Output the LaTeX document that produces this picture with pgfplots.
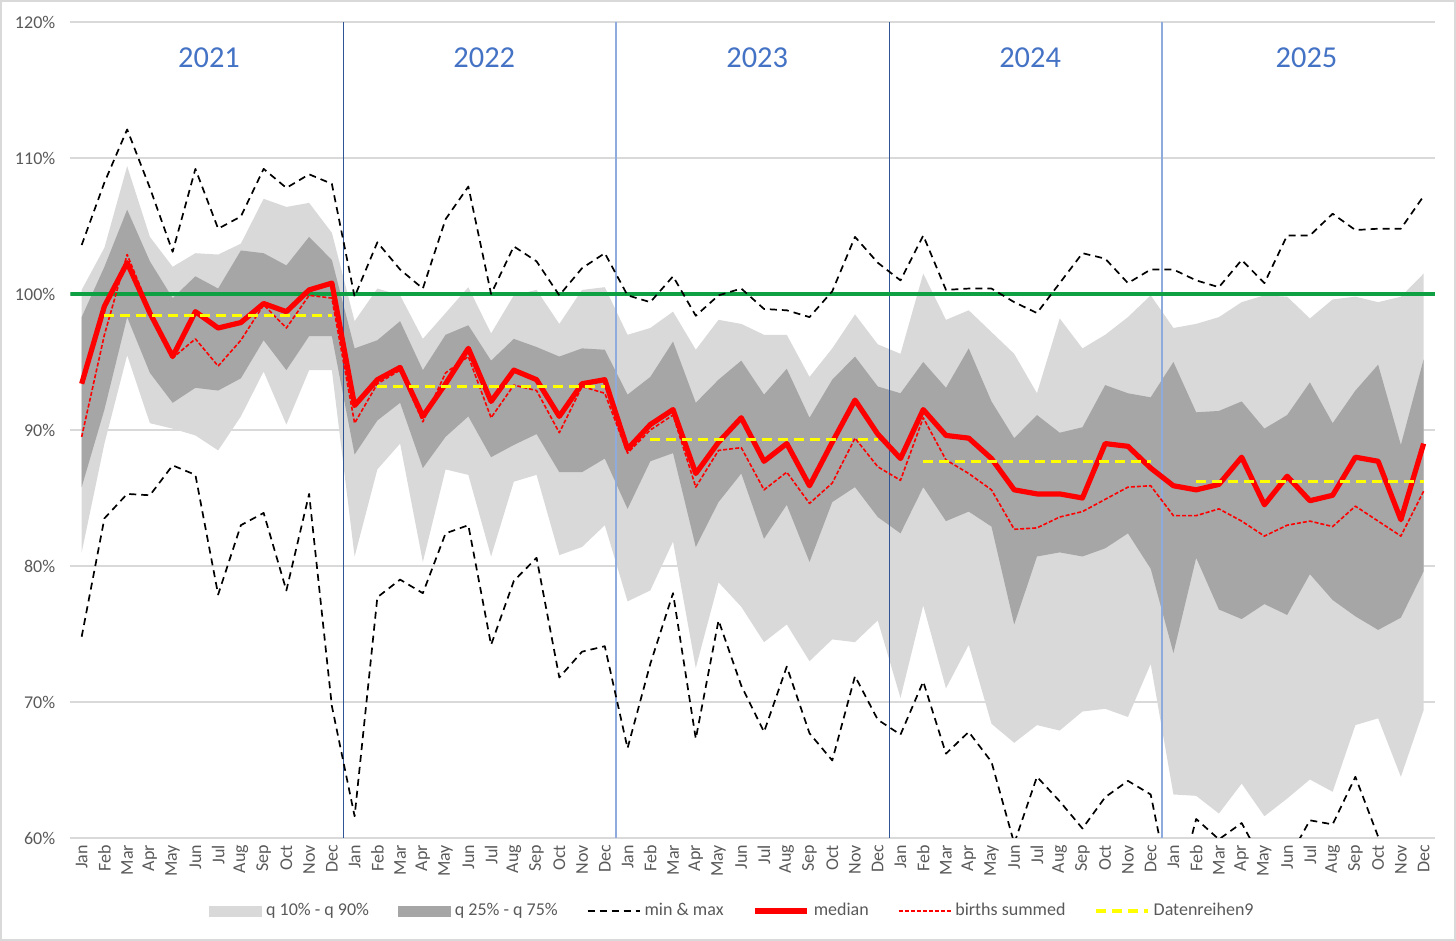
\documentclass[border=0pt]{standalone}
\usepackage{fontspec}
\setmainfont{Carlito}
\usepackage{pgfplots}
\pgfplotsset{compat=1.18}
\usepackage{pgfplotstable}
\usepgfplotslibrary{fillbetween}
\definecolor{lightband}{HTML}{D9D9D9}
\definecolor{darkband}{HTML}{A6A6A6}
\definecolor{gridgray}{HTML}{D9D9D9}
\definecolor{tickgray}{HTML}{595959}
\definecolor{greenline}{HTML}{0EA043}
\definecolor{yearblue}{HTML}{4472C4}
\definecolor{sepdark}{HTML}{2F5597}
\definecolor{seplight}{HTML}{8FAADC}
\definecolor{yel}{HTML}{FFFF00}

\pgfplotstableread{
x q10 q25 q75 q90 mn mx med births avg
0 81.0 85.8 98.3 100.3 74.8 103.6 93.4 89.5 nan
1 89.0 91.5 102.0 103.4 83.5 108.2 99.1 97.0 98.4
2 95.5 98.3 106.2 109.4 85.3 112.1 102.3 102.9 98.4
3 90.5 94.2 102.4 104.2 85.2 107.8 98.6 98.8 98.4
4 90.1 92.0 99.7 102.0 87.4 103.1 95.4 95.3 98.4
5 89.6 93.1 101.3 103.0 86.7 109.2 98.7 96.7 98.4
6 88.5 92.9 100.4 102.9 77.9 104.8 97.5 94.7 98.4
7 91.0 93.8 103.2 103.7 83.0 105.7 97.9 96.6 98.4
8 94.3 96.6 103.0 107.0 83.9 109.2 99.3 99.2 98.4
9 90.4 94.4 102.1 106.4 78.2 107.8 98.7 97.5 98.4
10 94.4 96.9 104.2 106.7 85.3 108.8 100.3 99.9 98.4
11 94.4 96.9 102.5 104.5 69.7 108.1 100.8 99.7 98.4
12 80.7 88.2 96.0 98.0 61.6 99.8 91.8 90.5 nan
13 87.1 90.7 96.6 100.4 77.7 103.8 93.7 93.4 93.2
14 89.0 92.0 98.0 99.9 79.0 101.8 94.6 94.4 93.2
15 80.3 87.2 94.4 96.7 78.0 100.4 91.0 90.6 93.2
16 87.1 89.5 97.0 98.6 82.4 105.5 93.4 94.2 93.2
17 86.7 91.0 97.7 100.5 83.0 107.9 96.0 95.4 93.2
18 80.7 88.0 95.1 97.1 74.2 100.0 92.1 90.9 93.2
19 86.2 88.9 96.7 99.9 78.9 103.5 94.4 93.3 93.2
20 86.7 89.7 96.1 100.3 80.6 102.4 93.7 92.9 93.2
21 80.8 86.9 95.4 97.8 71.8 99.9 91.0 89.8 93.2
22 81.4 86.9 96.0 100.3 73.7 101.9 93.4 93.2 93.2
23 83.0 87.9 95.9 100.5 74.1 103.0 93.7 92.7 93.2
24 77.4 84.2 92.6 97.0 66.6 99.9 88.6 88.3 nan
25 78.2 87.7 93.9 97.5 72.8 99.4 90.4 90.0 89.3
26 81.8 88.3 96.5 98.7 78.0 101.3 91.5 91.1 89.3
27 72.5 81.4 92.0 95.9 67.3 98.4 86.8 85.8 89.3
28 78.8 84.7 93.7 98.1 76.0 99.9 89.1 88.5 89.3
29 77.0 86.8 95.1 97.8 71.2 100.4 90.9 88.7 89.3
30 74.4 82.0 92.6 97.0 67.8 98.9 87.7 85.6 89.3
31 75.7 84.5 94.5 97.0 72.6 98.8 89.0 86.9 89.3
32 73.0 80.3 90.9 93.9 67.7 98.3 85.9 84.6 89.3
33 74.6 84.7 93.7 96.0 65.7 100.2 89.1 86.1 89.3
34 74.4 85.8 95.4 98.5 71.9 104.2 92.2 89.4 89.3
35 76.0 83.6 93.2 96.3 68.7 102.3 89.7 87.3 89.3
36 70.3 82.4 92.7 95.6 67.6 101.0 87.9 86.3 nan
37 77.1 85.8 95.0 101.5 71.5 104.3 91.5 90.9 87.7
38 71.0 83.3 93.1 98.1 66.2 100.3 89.6 87.8 87.7
39 74.2 84.0 96.0 98.8 67.8 100.4 89.4 86.8 87.7
40 68.4 82.9 92.1 97.2 65.6 100.4 87.9 85.6 87.7
41 67.0 75.7 89.4 95.6 59.6 99.4 85.6 82.7 87.7
42 68.3 80.7 91.1 92.7 64.5 98.6 85.3 82.8 87.7
43 67.9 81.0 89.8 98.2 62.7 100.8 85.3 83.6 87.7
44 69.3 80.7 90.2 96.0 60.7 103.0 85.0 84.0 87.7
45 69.5 81.3 93.3 97.0 63.0 102.6 89.0 84.9 87.7
46 68.9 82.4 92.7 98.3 64.2 100.8 88.8 85.8 87.7
47 72.8 79.8 92.4 99.9 63.2 101.8 87.2 85.9 87.7
48 63.2 73.6 95.0 97.5 55.0 101.8 85.9 83.7 nan
49 63.1 80.6 91.3 97.8 61.4 101.0 85.6 83.7 86.2
50 61.8 76.8 91.4 98.3 59.9 100.5 86.0 84.2 86.2
51 64.0 76.1 92.1 99.4 61.1 102.5 88.0 83.3 86.2
52 61.6 77.2 90.1 99.9 58.0 100.8 84.5 82.2 86.2
53 62.9 76.4 91.1 99.8 58.3 104.3 86.6 83.0 86.2
54 64.3 79.4 93.5 98.2 61.3 104.3 84.8 83.3 86.2
55 63.4 77.5 90.5 99.6 61.0 105.9 85.2 82.9 86.2
56 68.3 76.3 92.9 99.8 64.5 104.7 88.0 84.4 86.2
57 68.8 75.3 94.8 99.4 60.1 104.8 87.7 83.3 86.2
58 64.5 76.2 88.9 99.8 58.0 104.8 83.4 82.2 86.2
59 69.4 79.6 95.2 101.5 57.5 107.2 89.0 85.5 86.2
}\data

\begin{document}
\begin{tikzpicture}
\begin{axis}[
  at={(35.15pt,51.5pt)}, anchor=south west,
  scale only axis, width=682.35pt, height=408pt,
  xmin=-0.5, xmax=59.5, ymin=60, ymax=120,
  axis line style={draw=none},
  major tick length=0pt,
  ymajorgrids, grid style={gridgray, line width=0.6pt},
  ytick={60,70,80,90,100,110,120},
  yticklabels={60\%,70\%,80\%,90\%,100\%,110\%,120\%},
  yticklabel style={font=\fontsize{9}{11}\selectfont, text=tickgray, xshift=-4pt},
  xtick={0,...,59},
  xticklabels={Jan,Feb,Mar,Apr,May,Jun,Jul,Aug,Sep,Oct,Nov,Dec,Jan,Feb,Mar,Apr,May,Jun,Jul,Aug,Sep,Oct,Nov,Dec,Jan,Feb,Mar,Apr,May,Jun,Jul,Aug,Sep,Oct,Nov,Dec,Jan,Feb,Mar,Apr,May,Jun,Jul,Aug,Sep,Oct,Nov,Dec,Jan,Feb,Mar,Apr,May,Jun,Jul,Aug,Sep,Oct,Nov,Dec},
  xticklabel style={font=\fontsize{9}{11}\selectfont, text=tickgray, rotate=90, anchor=east},
  unbounded coords=jump,
  legend columns=6,
  legend style={at={(0.4856,-0.0895)}, anchor=center, draw=none, fill=none,
    font=\fontsize{9}{11}\selectfont, text=tickgray,
    nodes={inner sep=1.5pt},
    /tikz/every odd column/.append style={column sep=0.5pt},
    /tikz/every even column/.append style={column sep=13pt}},
  legend cell align=left,
]
\addplot[draw=none, name path=q10, forget plot] table[x=x, y=q10] {\data};
\addplot[draw=none, name path=q90, forget plot] table[x=x, y=q90] {\data};
\addplot[draw=none, name path=q25, forget plot] table[x=x, y=q25] {\data};
\addplot[draw=none, name path=q75, forget plot] table[x=x, y=q75] {\data};
\addplot[fill=lightband, draw=none, forget plot] fill between[of=q90 and q10];
\addplot[fill=darkband, draw=none, forget plot] fill between[of=q75 and q25];

\addplot[sepdark, line width=0.6pt, forget plot] coordinates {(11.5,60) (11.5,120)};
\addplot[seplight, line width=0.8pt, forget plot] coordinates {(23.5,60) (23.5,120)};
\addplot[sepdark, line width=0.6pt, forget plot] coordinates {(35.5,60) (35.5,120)};
\addplot[seplight, line width=0.8pt, forget plot] coordinates {(47.5,60) (47.5,120)};

\addplot[greenline, line width=1.7pt, forget plot] coordinates {(-0.5,100) (59.5,100)};

\addplot[black, line width=0.85pt, dash pattern=on 3.5pt off 2.5pt, line join=round, forget plot] table[x=x, y=mn] {\data};
\addplot[black, line width=0.85pt, dash pattern=on 3.5pt off 2.5pt, line join=round, forget plot] table[x=x, y=mx] {\data};
\addplot[red, line width=2.6pt, line join=round, forget plot] table[x=x, y=med] {\data};
\addplot[red, line width=0.8pt, dash pattern=on 2pt off 1pt, line join=round, forget plot] table[x=x, y=births] {\data};
\addplot[yel, line width=1.6pt, dash pattern=on 5pt off 3pt, forget plot] table[x=x, y=avg] {\data};

\node[font=\fontsize{15.2}{18}\selectfont, text=yearblue] at (axis cs:5.6,117.4) {2021};
\node[font=\fontsize{15.2}{18}\selectfont, text=yearblue] at (axis cs:17.7,117.4) {2022};
\node[font=\fontsize{15.2}{18}\selectfont, text=yearblue] at (axis cs:29.7,117.4) {2023};
\node[font=\fontsize{15.2}{18}\selectfont, text=yearblue] at (axis cs:41.7,117.4) {2024};
\node[font=\fontsize{15.2}{18}\selectfont, text=yearblue] at (axis cs:53.85,117.4) {2025};

\addlegendimage{legend image code/.code={\fill[lightband] (0pt,-2.5pt) rectangle (26pt,2.5pt);}}
\addlegendentry{q 10\% - q 90\%}
\addlegendimage{legend image code/.code={\fill[darkband] (0pt,-2.5pt) rectangle (26pt,2.5pt);}}
\addlegendentry{q 25\% - q 75\%}
\addlegendimage{legend image code/.code={\draw[black, line width=0.85pt, dash pattern=on 3.5pt off 2.5pt] (0pt,0pt) -- (26pt,0pt);}}
\addlegendentry{min \& max}
\addlegendimage{legend image code/.code={\draw[red, line width=2.6pt] (0pt,0pt) -- (26pt,0pt);}}
\addlegendentry{median}
\addlegendimage{legend image code/.code={\draw[red, line width=0.8pt, dash pattern=on 2pt off 1pt] (0pt,0pt) -- (26pt,0pt);}}
\addlegendentry{births summed}
\addlegendimage{legend image code/.code={\draw[yel, line width=1.6pt, dash pattern=on 5pt off 3pt] (0pt,0pt) -- (26pt,0pt);}}
\addlegendentry{Datenreihen9}
\end{axis}
\pgfresetboundingbox
\path[use as bounding box] (0pt,0pt) rectangle (728pt,470.5pt);
\draw[gridgray, line width=1pt] (0.5pt,0.5pt) rectangle (727.5pt,470pt);
\end{tikzpicture}
\end{document}
